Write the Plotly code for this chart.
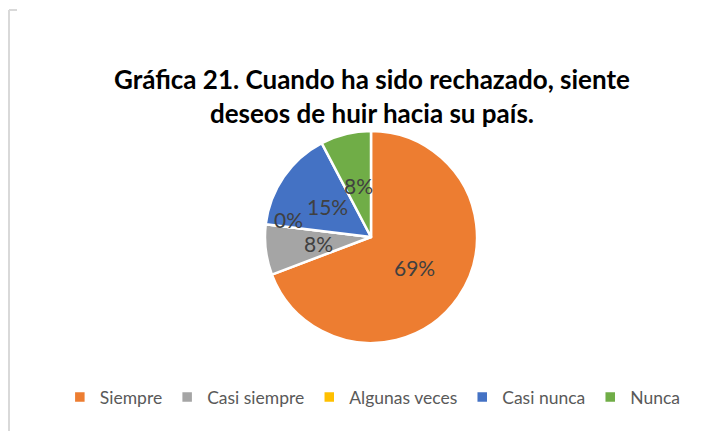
import math
import plotly.graph_objects as go

labels = ["Siempre", "Casi siempre", "Algunas veces", "Casi nunca", "Nunca"]
counts = [9, 1, 0, 2, 1]
colors = ["#ED7D31", "#A5A5A5", "#FFC000", "#4472C4", "#70AD47"]
title_lines = ["Gráfica 21. Cuando ha sido rechazado, siente", "deseos de huir hacia su país."]

W, H = 717, 431
cx_px, cy_px, R_px = 371, 237, 106
dom_x = [(cx_px - R_px) / W, (cx_px + R_px) / W]
dom_y = [1 - (cy_px + R_px) / H, 1 - (cy_px - R_px) / H]

fig = go.Figure(go.Pie(
    labels=labels, values=counts, sort=False, direction="clockwise", rotation=0,
    marker=dict(colors=colors, line=dict(color="white", width=2.5)),
    textinfo="none",
    domain=dict(x=dom_x, y=dom_y),
    hoverinfo="label+percent",
))

# data labels placed like the spreadsheet (inside, about half radius)
total = sum(counts)
annotations = []
cum = 0.0
for v in counts:
    frac = v / total
    if v > 0:
        ang = (cum + frac / 2) * 2 * math.pi
        rr = 0.5 * R_px
    else:
        ang = cum * 2 * math.pi + math.radians(5)
        rr = 0.8 * R_px
    px = cx_px + rr * math.sin(ang)
    py = cy_px - rr * math.cos(ang)
    annotations.append(dict(text=f"{round(frac * 100)}%", x=px / W, y=1 - py / H,
                            xref="paper", yref="paper", showarrow=False,
                            xanchor="center", yanchor="middle",
                            font=dict(family="Lato", size=21, color="#404040")))
    cum += frac

annotations.append(dict(text="<b>" + "<br>".join(title_lines) + "</b>", x=0.519, y=1 - 96 / H,
                        xref="paper", yref="paper", showarrow=False, xanchor="center", yanchor="middle",
                        font=dict(family="Lato", size=26, color="#000000")))

fig.update_layout(
    width=W, height=H,
    margin=dict(l=0, r=0, t=0, b=0),
    paper_bgcolor="white",
    showlegend=True,
    legend=dict(orientation="h", x=0.52, xanchor="center", y=1 - 397 / H, yanchor="middle",
                font=dict(family="Lato", size=17.5, color="#595959"),
                itemwidth=30, traceorder="normal"),
    annotations=annotations,
    shapes=[
        dict(type="line", xref="paper", yref="paper", x0=9 / W, x1=9 / W, y0=0, y1=1 - 10 / H,
             line=dict(color="#D9D9D9", width=2)),
        dict(type="line", xref="paper", yref="paper", x0=9 / W, x1=17 / W, y0=1 - 10 / H, y1=1 - 10 / H,
             line=dict(color="#D9D9D9", width=2)),
    ],
)

fig.write_html("out.html", config={"displayModeBar": False},
               post_script="document.body.style.margin='0';")
